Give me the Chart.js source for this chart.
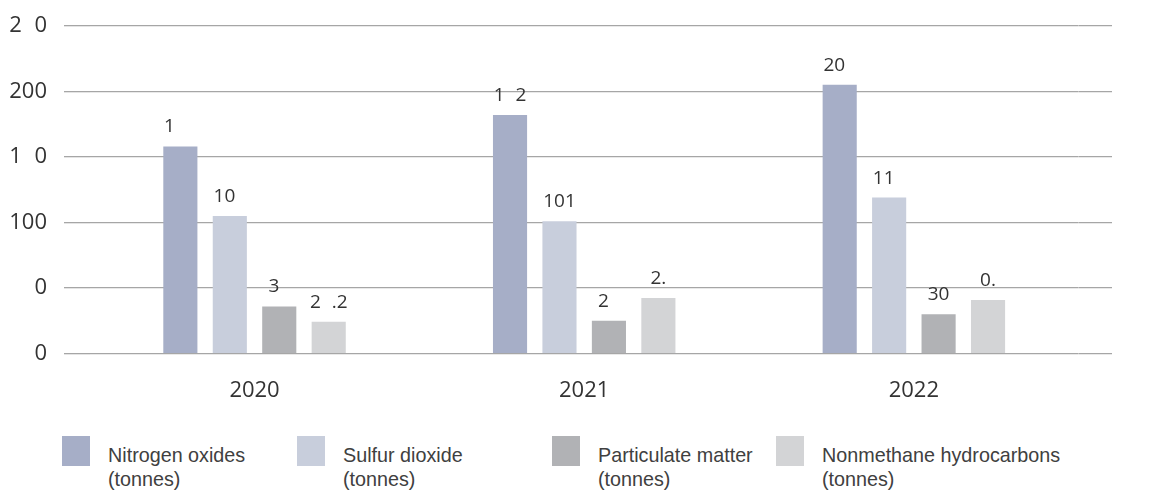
<!DOCTYPE html>
<html>
<head>
<meta charset="utf-8">
<script src="https://cdn.jsdelivr.net/npm/chart.js@4.4.0/dist/chart.umd.min.js"></script>
<style>
  body { margin: 0; background: #fff; width: 1165px; height: 491px; overflow: hidden; position: relative; }
  #wrap { position: absolute; top: 0; left: 0; width: 1165px; height: 428px; }
  #legend { position: absolute; top: 436px; left: 0; width: 1165px; height: 55px;
    font-family: 'Liberation Sans', Arial, sans-serif; font-size: 21px; line-height: 24px; color: #404040; }
  .lg-item { position: absolute; top: 0; display: flex; }
  .lg-item:nth-child(1) { left: 62px; }
  .lg-item:nth-child(2) { left: 297px; }
  .lg-item:nth-child(3) { left: 552px; }
  .lg-item:nth-child(4) { left: 776px; }
  .lg-box { width: 28px; height: 30px; flex: none; }
  .lg-text { margin-left: 18px; margin-top: 7px; white-space: pre-line;
    transform: scaleX(0.94); transform-origin: left top; }
</style>
</head>
<body>
<div id="wrap"><canvas id="chart"></canvas></div>
<div id="legend"></div>
<script>
// figure space stands in for the digits the source font failed to draw
const FS = '\u2007';

const years = ['2020', '2021', '2022'];
const seriesNames = [
  'Nitrogen oxides\n(tonnes)',
  'Sulfur dioxide\n(tonnes)',
  'Particulate matter\n(tonnes)',
  'Nonmethane hydrocarbons\n(tonnes)'
];
const seriesColors = ['#a6aec7', '#c8cedc', '#b1b2b5', '#d3d4d6'];

const nitrogenOxides = [158, 182, 205];
const sulfurDioxide = [105, 101, 119];
const particulateMatter = [36, 25, 30];
const nonmethaneHC = [24.2, 42.4, 40.9];

// labels exactly as printed above the bars
const nitrogenLabels = ['1' + FS + FS, '1' + FS + '2', '20' + FS];
const sulfurLabels = ['10' + FS, '101', '11' + FS];
const particulateLabels = ['3' + FS, '2' + FS, '30'];
const nonmethaneLabels = ['2' + FS + '.2', FS + '2.' + FS, FS + '0.' + FS];

const yTicks = [0, 50, 100, 150, 200, 250];
const yTickLabels = ['0', FS + '0', '100', '1' + FS + '0', '200', '2' + FS + '0'];

const GRID = '#a6a6a6';

const valueLabelPlugin = {
  id: 'valueLabels',
  afterDatasetsDraw(chart) {
    const ctx = chart.ctx;
    ctx.save();
    ctx.font = '19px "Open Sans"';
    ctx.fillStyle = '#333333';
    ctx.textAlign = 'center';
    ctx.textBaseline = 'alphabetic';
    chart.data.datasets.forEach((ds, i) => {
      const meta = chart.getDatasetMeta(i);
      meta.data.forEach((bar, j) => {
        ctx.fillText(ds.valueLabels[j], bar.x, bar.y - 14);
      });
    });
    ctx.restore();
  }
};

const values = [nitrogenOxides, sulfurDioxide, particulateMatter, nonmethaneHC];
const labels = [nitrogenLabels, sulfurLabels, particulateLabels, nonmethaneLabels];

const chart = new Chart(document.getElementById('chart'), {
  type: 'bar',
  data: {
    labels: years,
    datasets: values.map((v, i) => ({
      label: seriesNames[i],
      data: v,
      valueLabels: labels[i],
      backgroundColor: seriesColors[i],
      categoryPercentage: 0.6,
      barPercentage: 0.69
    }))
  },
  options: {
    responsive: true,
    maintainAspectRatio: false,
    animation: false,
    layout: { padding: { left: 9, right: 53, top: 0, bottom: 0 } },
    plugins: { legend: { display: false }, tooltip: { enabled: false } },
    scales: {
      x: {
        grid: { display: false, drawTicks: false },
        border: { display: false },
        ticks: { color: '#333333', font: { family: 'Open Sans', size: 22 }, padding: 24 }
      },
      y: {
        min: 0, max: 250,
        afterBuildTicks: s => { s.ticks = yTicks.map(v => ({ value: v })); },
        afterFit: s => { s.width = 80.7; },
        // tick marks carry the grid lines out past the plot on the left
        grid: { color: GRID, lineWidth: 1.3, drawTicks: true, tickLength: 25.7 },
        border: { display: false },
        ticks: {
          color: '#333333', font: { family: 'Open Sans', size: 22, lineHeight: 0.8 }, padding: 17,
          callback: (v, i) => yTickLabels[i]
        }
      },
      yRight: {
        position: 'right',
        min: 0, max: 250,
        afterBuildTicks: s => { s.ticks = yTicks.map(v => ({ value: v })); },
        afterFit: s => { s.width = 33.3; },
        grid: { color: GRID, lineWidth: 1.3, drawOnChartArea: false, drawTicks: true, tickLength: 33.3 },
        border: { display: false },
        ticks: { display: false }
      }
    }
  },
  plugins: [valueLabelPlugin]
});

// html legend so the names can wrap onto two lines
const legend = document.getElementById('legend');
chart.data.datasets.forEach(ds => {
  const item = document.createElement('div');
  item.className = 'lg-item';
  item.innerHTML = `<div class="lg-box" style="background:${ds.backgroundColor}"></div><div class="lg-text"></div>`;
  item.querySelector('.lg-text').textContent = ds.label;
  legend.appendChild(item);
});
</script>
</body>
</html>
